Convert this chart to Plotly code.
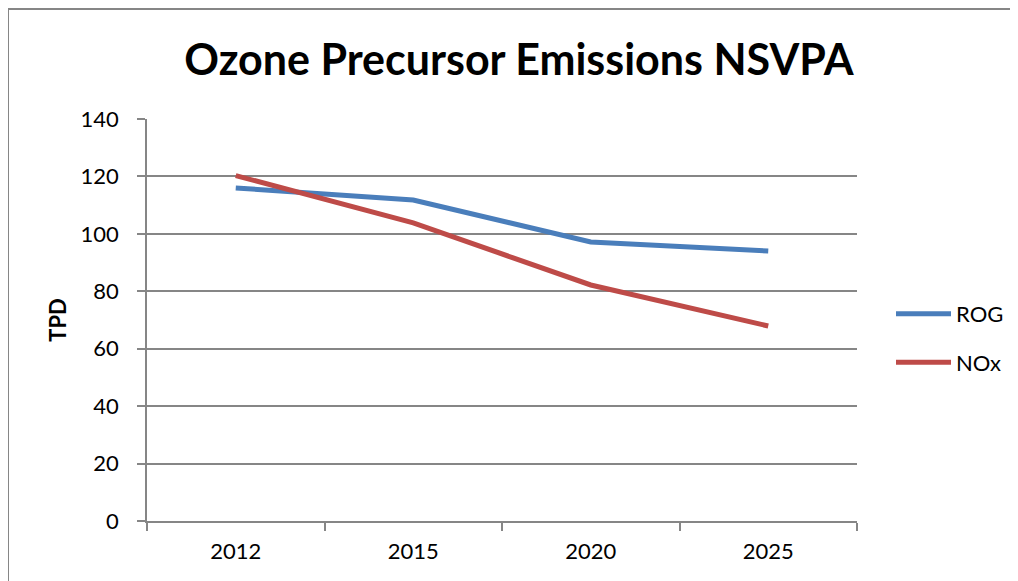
import plotly.graph_objects as go

years = ["2012", "2015", "2020", "2025"]
rog = [116.0, 111.8, 97.2, 94.0]
nox = [120.3, 103.8, 82.2, 67.9]

OFF = 8  # page body margin
W, H = 1018 - OFF, 581 - OFF
L, R, T, B = 147 - OFF, 857 - OFF, 119 - OFF, 521 - OFF
pw, ph = R - L, B - T

def px(x):
    return (x - OFF - L) / pw

def py(y):
    return (B - (y - OFF)) / ph

FONT = "Lato"
GRAY = "#868686"

fig = go.Figure()
fig.add_trace(go.Scatter(x=years, y=rog, name="ROG", mode="lines",
                         line=dict(color="#4a7ebb", width=5), legendgroup="a"))
fig.add_trace(go.Scatter(x=years, y=nox, name="NOx", mode="lines",
                         line=dict(color="#be4b48", width=5), legendgroup="b"))

fig.update_layout(
    width=W, height=H,
    margin=dict(l=L, r=W - R, t=T, b=H - B, autoexpand=False),
    paper_bgcolor="white", plot_bgcolor="white",
    font=dict(family=FONT, color="black", size=22),
    title=dict(text="<b>Ozone Precursor Emissions NSVPA</b>",
               font=dict(family=FONT, size=43, color="black"),
               xref="paper", x=px(519), xanchor="center",
               y=1 - (60 - OFF) / H, yanchor="middle"),
    xaxis=dict(type="category", range=[-0.5, 3.5], tickson="boundaries",
               ticks="outside", ticklen=8, tickcolor=GRAY, tickwidth=1.5,
               showline=True, linecolor=GRAY, linewidth=1.5,
               showgrid=False, tickfont=dict(size=22), ticklabelstandoff=10),
    yaxis=dict(range=[0, 140], dtick=20, ticks="outside", ticklen=8,
               tickcolor=GRAY, tickwidth=1.5, showline=True, linecolor=GRAY,
               linewidth=1.5, showgrid=True, gridcolor=GRAY, gridwidth=1.5,
               zeroline=False, tickfont=dict(size=22), ticklabelstandoff=14,
               title=dict(text="<b>TPD</b>", font=dict(size=22), standoff=8)),
    legend=dict(x=px(891), xanchor="left", y=py(317) + 0.06, yanchor="top",
                font=dict(size=22), itemwidth=55, tracegroupgap=17,
                traceorder="grouped", bgcolor="rgba(0,0,0,0)"),
    shapes=[dict(type="rect", xref="paper", yref="paper",
                 x0=px(8), x1=px(1030), y0=py(595), y1=py(9),
                 line=dict(color=GRAY, width=2), fillcolor="rgba(0,0,0,0)",
                 layer="below")],
)

fig.write_html("out.html")
